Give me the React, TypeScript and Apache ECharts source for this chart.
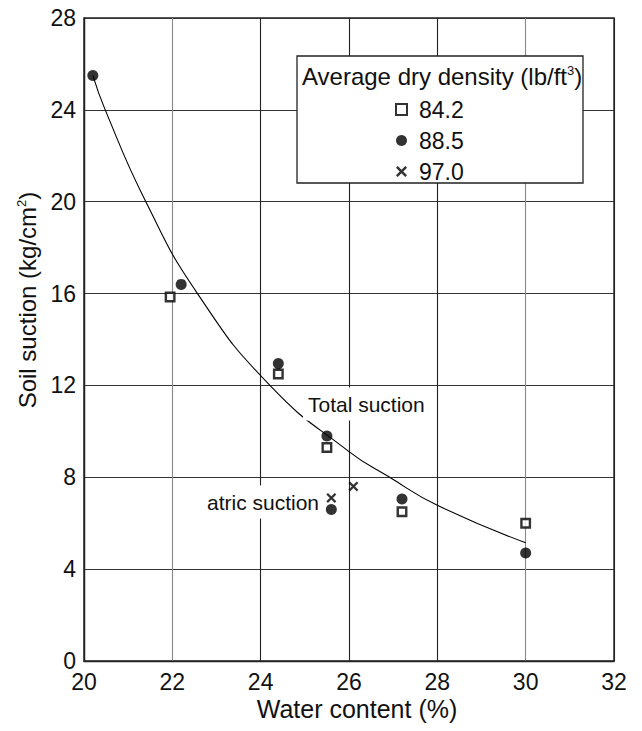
import React, { useEffect, useRef } from 'react';
import * as echarts from 'echarts';

const FONT = "'Liberation Sans', Arial, Helvetica, sans-serif";

const xMin = 20;
const xMax = 32;
const xStep = 2;
const yMin = 0;
const yMax = 28;
const yStep = 4;

const legendNames = ['84.2', '88.5', '97.0'];

// Average dry density 84.2 lb/ft3 (open squares)
const density842: number[][] = [
  [21.95, 15.85],
  [24.4, 12.5],
  [25.5, 9.3],
  [27.2, 6.5],
  [30.0, 6.0],
];

// Average dry density 88.5 lb/ft3 (filled circles)
const density885: number[][] = [
  [20.2, 25.5],
  [22.2, 16.4],
  [24.4, 12.95],
  [25.5, 9.8],
  [25.6, 6.6],
  [27.2, 7.05],
  [30.0, 4.7],
];

// Average dry density 97.0 lb/ft3 (crosses)
const density970: number[][] = [
  [25.6, 7.1],
  [26.1, 7.6],
];

// Total suction curve
const totalSuctionCurve: number[][] = [
  [20.2, 25.5],
  [20.48, 24],
  [21.4, 20],
  [22.57, 16],
  [24.21, 12],
  [26.0, 9.12],
  [26.92, 8],
  [28.0, 6.78],
  [30.0, 5.15],
];

const CROSS =
  'path://M0,1.6L1.6,0L5,3.4L8.4,0L10,1.6L6.6,5L10,8.4L8.4,10L5,6.6L1.6,10L0,8.4L3.4,5Z';

export default function App() {
  const ref = useRef<HTMLDivElement>(null);

  useEffect(() => {
    document.body.style.margin = '0';
    if (!ref.current) return;
    const chart = echarts.init(ref.current, undefined, { renderer: 'svg' });

    const option: any = {
      animation: false,
      backgroundColor: '#ffffff',
      grid: {
        left: 84,
        right: 28,
        top: 18,
        bottom: 70,
        show: true,
        borderColor: '#222',
        borderWidth: 1.4,
        backgroundColor: 'transparent',
      },
      xAxis: {
        type: 'value',
        min: xMin,
        max: xMax,
        interval: xStep,
        axisLine: { show: true, lineStyle: { color: '#222', width: 1.4 } },
        axisTick: { show: false },
        axisLabel: { fontSize: 23, color: '#111', fontFamily: FONT, margin: 9 },
        splitLine: {
          show: true,
          lineStyle: {
            color: ['#222', '#888', '#222', '#222', '#222', '#888', '#222'],
            width: 1.1,
          },
        },
      },
      yAxis: {
        type: 'value',
        min: yMin,
        max: yMax,
        interval: yStep,
        axisLine: { show: true, lineStyle: { color: '#222', width: 1.4 } },
        axisTick: { show: false },
        axisLabel: { fontSize: 23, color: '#111', fontFamily: FONT, margin: 8 },
        splitLine: { show: true, lineStyle: { color: '#333', width: 1.1 } },
      },
      legend: {
        orient: 'vertical',
        left: 390,
        top: 93,
        z: 20,
        itemWidth: 11,
        itemHeight: 11,
        itemGap: 8,
        data: legendNames,
        textStyle: {
          fontSize: 23,
          color: '#111',
          fontFamily: FONT,
          padding: [0, 0, 0, 7],
        },
      },
      series: [
        {
          type: 'line',
          name: 'Total suction',
          data: totalSuctionCurve,
          smooth: 0.5,
          showSymbol: false,
          symbol: 'none',
          lineStyle: { color: '#000', width: 1.1 },
          z: 1,
          silent: true,
        },
        {
          type: 'scatter',
          name: legendNames[0],
          data: density842,
          symbol: 'rect',
          symbolSize: 8.5,
          itemStyle: { color: '#fff', borderColor: '#000', borderWidth: 2.4 },
          z: 3,
        },
        {
          type: 'scatter',
          name: legendNames[1],
          data: density885,
          symbol: 'circle',
          symbolSize: 11,
          itemStyle: { color: '#000' },
          z: 3,
        },
        {
          type: 'scatter',
          name: legendNames[2],
          data: density970,
          symbol: CROSS,
          symbolSize: 10,
          itemStyle: { color: '#000' },
          z: 3,
        },
      ],
      graphic: [
        {
          type: 'rect',
          z: 10,
          shape: { x: 297, y: 56, width: 286, height: 127 },
          style: { fill: '#fff', stroke: '#222', lineWidth: 1.3 },
        },
        {
          type: 'text',
          z: 21,
          x: 302,
          y: 76,
          style: {
            text: '{a|Average dry density (lb/ft}{s|3}{a|)}',
            align: 'left',
            verticalAlign: 'middle',
            fill: '#111',
            fontFamily: FONT,
            rich: {
              a: { fontSize: 24, fontFamily: FONT, fill: '#111' },
              s: { fontSize: 13, fontFamily: FONT, fill: '#111', verticalAlign: 'top' },
            },
          },
        },
        {
          type: 'text',
          z: 10,
          x: 303,
          y: 404,
          style: {
            text: 'Total suction',
            fontSize: 21,
            fontFamily: FONT,
            fill: '#111',
            align: 'left',
            verticalAlign: 'middle',
            backgroundColor: '#fff',
            padding: [6, 5, 6, 5],
          },
        },
        {
          type: 'text',
          z: 10,
          x: 202,
          y: 502,
          style: {
            text: 'atric suction',
            fontSize: 21,
            fontFamily: FONT,
            fill: '#111',
            align: 'left',
            verticalAlign: 'middle',
            backgroundColor: '#fff',
            padding: [6, 5, 6, 5],
          },
        },
        {
          type: 'text',
          z: 10,
          x: 357,
          y: 709,
          style: {
            text: 'Water content (%)',
            fontSize: 25,
            fontFamily: FONT,
            fill: '#111',
            align: 'center',
            verticalAlign: 'middle',
          },
        },
        {
          type: 'text',
          z: 10,
          x: 27,
          y: 300,
          rotation: Math.PI / 2,
          style: {
            text: '{a|Soil suction (kg/cm}{s|2}{a|)}',
            align: 'center',
            verticalAlign: 'middle',
            fill: '#111',
            fontFamily: FONT,
            rich: {
              a: { fontSize: 24, fontFamily: FONT, fill: '#111' },
              s: { fontSize: 13, fontFamily: FONT, fill: '#111', verticalAlign: 'top' },
            },
          },
        },
      ],
    };

    chart.setOption(option);
    return () => {
      chart.dispose();
    };
  }, []);

  return <div ref={ref} style={{ width: 642, height: 731 }} />;
}
